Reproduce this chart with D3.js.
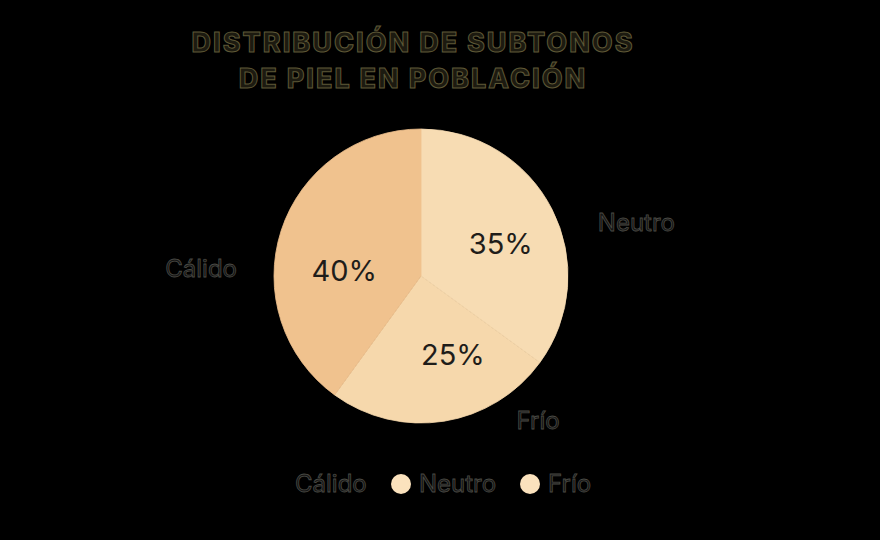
<!DOCTYPE html>
<html>
<head>
<meta charset="utf-8">
<script src="https://cdn.jsdelivr.net/npm/d3@7"></script>
<style>
  html, body { margin: 0; padding: 0; background: #000; }
  svg { display: block; font-family: Inter, "Noto Sans", sans-serif; }
</style>
</head>
<body>
<div id="chart"></div>
<script>
const categories = ["Neutro", "Frío", "Cálido"];
const values = [35, 25, 40];
const sliceColors = ["#F7DCB3", "#F6D8AC", "#F0C28E"];
const legendOrder = ["Cálido", "Neutro", "Frío"];
const legendMarkers = ["#000000", "#FBE2BD", "#FBE2BD"];
const titleLines = ["DISTRIBUCIÓN DE SUBTONOS", "DE PIEL EN POBLACIÓN"];

const WIDTH = 880;
const HEIGHT = 540;
const CX = 421;
const CY = 276;
const RADIUS = 147;

// label placement tweaks (degrees offset from slice middle, radius)
const LABEL_LAYOUT = {
    "Neutro": { pctTurn: 5, pctR: 86, catTurn: 13, catR: 222 },
    "Frío": { pctTurn: -13, pctR: 85, catTurn: -30, catR: 186 },
    "Cálido": { pctTurn: -14, pctR: 77, catTurn: -16, catR: 220 },
};

const data = categories.map((c, i) => ({ name: c, value: values[i], color: sliceColors[i] }));

const svg = d3.select("#chart")
    .append("svg")
    .attr("width", WIDTH)
    .attr("height", HEIGHT);

svg.append("rect")
    .attr("width", WIDTH)
    .attr("height", HEIGHT)
    .attr("fill", "#000");

// title
svg.append("g")
    .selectAll("text")
    .data(titleLines)
    .join("text")
    .attr("x", 413)
    .attr("y", (d, i) => 52 + i * 36)
    .attr("text-anchor", "middle")
    .attr("font-size", 27)
    .attr("font-weight", 800)
    .attr("letter-spacing", 2)
    .attr("fill", "#1c1a10")
    .attr("stroke", "#5e5836")
    .attr("stroke-width", 1)
    .text(d => d);

const pie = d3.pie().value(d => d.value).sort(null);
const arc = d3.arc().innerRadius(0).outerRadius(RADIUS);
const arcs = pie(data);

const g = svg.append("g").attr("transform", `translate(${CX},${CY})`);

g.selectAll("path")
    .data(arcs)
    .join("path")
    .attr("d", arc)
    .attr("fill", d => d.data.color)
    .attr("stroke", d => d.data.color)
    .attr("stroke-width", 0.8);

function place(d, turnKey, rKey) {
    const lay = LABEL_LAYOUT[d.data.name];
    const a = (d.startAngle + d.endAngle) / 2 + lay[turnKey] * Math.PI / 180;
    const r = lay[rKey];
    return `translate(${Math.sin(a) * r},${-Math.cos(a) * r})`;
}

// percentage labels
const total = d3.sum(values);
g.selectAll(".pct")
    .data(arcs)
    .join("text")
    .attr("class", "pct")
    .attr("transform", d => place(d, "pctTurn", "pctR"))
    .attr("text-anchor", "middle")
    .attr("dy", "0.35em")
    .attr("font-size", 29)
    .attr("fill", "#1f1d1a")
    .text(d => Math.round(d.data.value / total * 100) + "%");

// outer category labels
g.selectAll(".cat")
    .data(arcs)
    .join("text")
    .attr("class", "cat")
    .attr("transform", d => place(d, "catTurn", "catR"))
    .attr("text-anchor", "middle")
    .attr("dy", "0.35em")
    .attr("font-size", 24)
    .attr("fill", "#141414")
    .attr("stroke", "#4a4a44")
    .attr("stroke-width", 0.8)
    .text(d => d.data.name);

// legend
const legend = svg.append("g").attr("transform", "translate(0,484)");
const legendX = [295, 419, 548];
const items = legend.selectAll("g")
    .data(legendOrder)
    .join("g")
    .attr("transform", (d, i) => `translate(${legendX[i]},0)`);

items.append("circle")
    .attr("cx", -18)
    .attr("r", 10)
    .attr("fill", (d, i) => legendMarkers[i]);

items.append("text")
    .attr("dy", "0.35em")
    .attr("font-size", 24)
    .attr("fill", "#141414")
    .attr("stroke", "#4a4a44")
    .attr("stroke-width", 0.8)
    .text(d => d);
</script>
</body>
</html>
